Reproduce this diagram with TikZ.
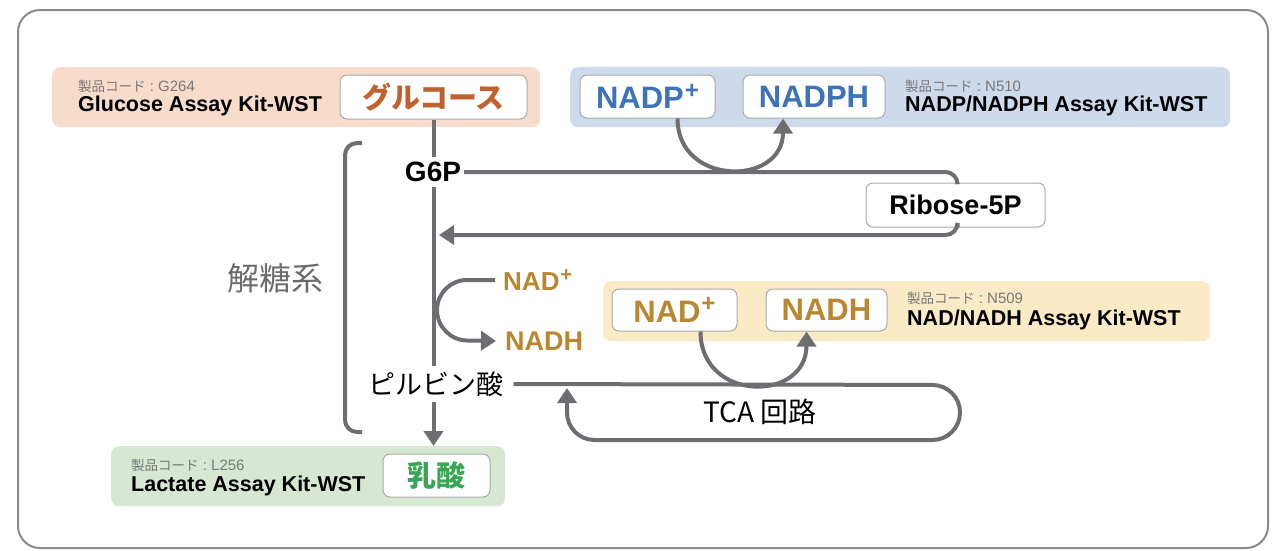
\documentclass[tikz,border=0pt]{standalone}
\usepackage{fontspec}
\setmainfont{Liberation Sans}
\newfontfamily\jp{Noto Sans CJK JP}
\usetikzlibrary{arrows.meta}
\definecolor{frameg}{HTML}{8A8A8A}
\definecolor{lineg}{HTML}{6D6E72}
\definecolor{boxb}{HTML}{AAAAAA}
\definecolor{codeg}{HTML}{777777}
\definecolor{peach}{HTML}{F8DCCB}
\definecolor{bluep}{HTML}{CCDAEB}
\definecolor{yellowp}{HTML}{FAEAC6}
\definecolor{greenp}{HTML}{D6E7D2}
\definecolor{orangeT}{HTML}{C0622F}
\definecolor{blueT}{HTML}{3F73B9}
\definecolor{goldT}{HTML}{B8872F}
\definecolor{greenT}{HTML}{3AA655}
\definecolor{glyco}{HTML}{6B6B6B}
\newcommand\supplus{\kern0.03em\raisebox{0.33em}{\scalebox{0.78}{+}}}
\newcommand\prodcode[1]{{\jp\fontsize{13.5}{15}\selectfont 製品コード}\fontsize{15}{17}\selectfont\ :\ #1}
\begin{document}
\begin{tikzpicture}[x=1pt,y=-1pt,
  panel/.style={fill=#1, draw=none, rounded corners=8pt, anchor=north west, inner sep=0pt},
  kbox/.style={fill=white, draw=boxb, line width=1pt, rounded corners=7pt, inner sep=0pt, text=#1},
  code/.style={anchor=west, inner sep=0pt, text=codeg},
  kit/.style={anchor=west, inner sep=0pt, font=\bfseries\fontsize{21.5}{24}\selectfont},
  big/.style={font=\bfseries\fontsize{31}{34}\selectfont},
  conn/.style={draw=lineg, line width=4pt},
  arr/.style={conn, -{Triangle[length=15pt,width=19pt]}},
  ]
\useasboundingbox (0,0) rectangle (1277,550);
\draw[frameg, line width=2pt, rounded corners=22pt] (18,10) rectangle (1268,548);

% panels
\node[panel=peach, minimum width=488pt, minimum height=60pt] (gpanel) at (52,67) {};
\node[panel=bluep, minimum width=660pt, minimum height=60pt] (bpanel) at (570,67) {};
\node[panel=yellowp, minimum width=607pt, minimum height=60pt] (ypanel) at (603,281) {};
\node[panel=greenp, minimum width=394pt, minimum height=60pt] (lpanel) at (111,446) {};

% glucose panel
\node[code] (gcode) at (78,86) {\prodcode{G264}};
\node[kit] (gkit) at (78,106) {Glucose Assay Kit-WST};
\node[kbox=orangeT, minimum width=187pt, minimum height=44pt] (glu) at (433.5,97) {\jp\bfseries\fontsize{29}{32}\selectfont グルコース};

% NADP panel
\node[kbox=blueT, big, minimum width=135pt, minimum height=43pt] (nadp) at (647.5,96.5) {NADP\supplus};
\node[kbox=blueT, big, minimum width=142pt, minimum height=43pt] (nadph) at (814,96.5) {NADPH};
\node[code] (bcode) at (905,86) {\prodcode{N510}};
\node[kit] (bkit) at (905,106) {NADP/NADPH Assay Kit-WST};

% NAD panel
\node[kbox=goldT, big, minimum width=125pt, minimum height=42pt] (nad) at (674.5,310) {NAD\supplus};
\node[kbox=goldT, big, minimum width=121pt, minimum height=42pt] (nadh) at (826.5,310) {NADH};
\node[code] (ycode) at (907,298) {\prodcode{N509}};
\node[kit] (ykit) at (907,320) {NAD/NADH Assay Kit-WST};

% lactate panel
\node[code] (lcode) at (131,465) {\prodcode{L256}};
\node[kit] (lkit) at (131,486) {Lactate Assay Kit-WST};
\node[kbox=greenT, minimum width=107pt, minimum height=43pt] (lac) at (436.5,475.5) {\jp\bfseries\fontsize{29}{32}\selectfont 乳酸};

% pathway labels
\node[font=\bfseries\fontsize{28}{30}\selectfont, inner sep=3pt, inner ysep=5pt] (g6p) at (433,172) {G6P};
\node[kbox=black, font=\bfseries\fontsize{27}{30}\selectfont, minimum width=179pt, minimum height=44pt] (rib) at (955.5,205) {Ribose-5P};
\node[font=\jp\fontsize{27}{29}\selectfont, inner xsep=10pt, inner ysep=5pt] (pyr) at (436,384) {ピルビン酸};
\node[font=\jp\fontsize{28}{30}\selectfont] (tca) at (760,412) {TCA 回路};
\node[font=\jp\fontsize{32}{34}\selectfont, text=glyco] (glyc) at (275,278) {解糖系};
\node[font=\bfseries\fontsize{26}{28}\selectfont, text=goldT, anchor=west, inner sep=0pt] (nad1) at (503,280) {NAD\supplus};
\node[font=\bfseries\fontsize{27}{28}\selectfont, text=goldT, anchor=west, inner sep=0pt] (nadh1) at (505,341) {NADH};

\coordinate (j1) at (439,235);
\coordinate (bt) at (362,143);
\coordinate (bb) at (362,432);

% main line
\draw[conn] (glu.south) -- (glu.south |- g6p.north);
\draw[conn] (g6p.south -| glu.south) -- (pyr.north -| glu.south);
\draw[arr] (pyr.south -| glu.south) -- (lpanel.north -| glu.south);

% pentose phosphate
\draw[conn, rounded corners=12pt] (g6p.east) -| ([xshift=2pt]rib.north);
\draw[arr, rounded corners=12pt] ([xshift=2pt]rib.south) |- (j1);
\draw[arr] ([xshift=30pt]nadp.south) .. controls ++(0,68) and ([xshift=-31pt,yshift=-68pt]nadph.south) .. ([xshift=-31pt]nadph.south);

% glycolysis bracket
\draw[conn, rounded corners=12pt] (bt) -- (345,143) -- (345,432) -- (bb);

% NAD side branch
\draw[arr, rounded corners=30pt] ([xshift=-8pt]nad1.west) -- (437,280) -- (437,340) -- ([xshift=-9pt]nadh1.west);

% TCA
\draw[conn, rounded corners=27.5pt] (pyr.east) -- (960,385) -- (960,440) -- (567,440) -- (567,405);
\draw[arr] (567,406) -- (567,388);
\draw[arr] ([xshift=26pt]nad.south) .. controls ++(0,71) and ([xshift=-20pt,yshift=-71pt]nadh.south) .. ([xshift=-20pt]nadh.south);
\end{tikzpicture}
\end{document}
